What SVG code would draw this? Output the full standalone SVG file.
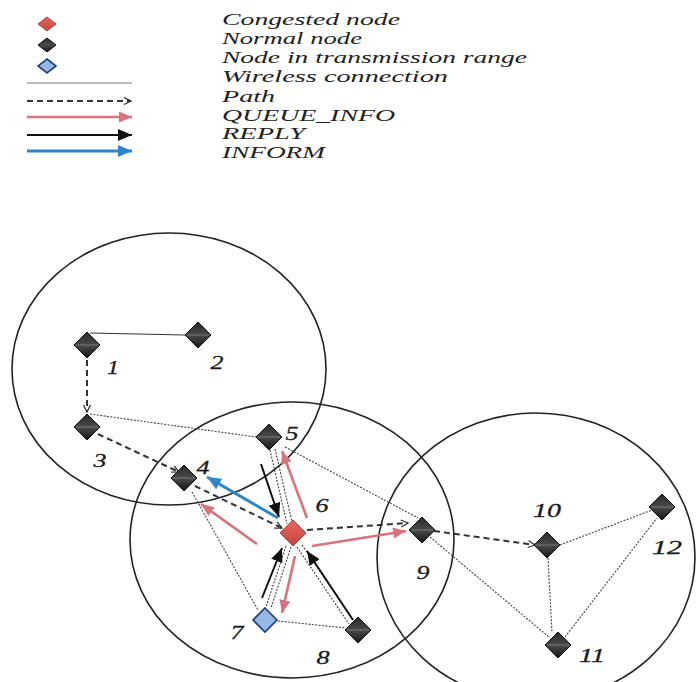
<svg xmlns="http://www.w3.org/2000/svg" width="696" height="682" viewBox="0 0 696 682">
  <style>
    .legend { font-family: "Liberation Serif", "DejaVu Serif", serif; font-style: italic; font-size: 16.5px; fill: #222; }
    .lbl { font-family: "Liberation Serif", "DejaVu Serif", serif; font-style: italic; font-size: 19px; fill: #1a1a1a; text-anchor: middle; stroke: #1a1a1a; stroke-width: 0.3; }
    .range { fill: none; stroke: #222; stroke-width: 1.6; }
    .wireless { fill: none; stroke: #444; stroke-width: 1.1; stroke-dasharray: 2 1.4; }
    .solidlink { fill: none; stroke: #333; stroke-width: 1.1; }
    .path { fill: none; stroke: #333; stroke-width: 2; stroke-dasharray: 6 4; marker-end: url(#openHead); }
    .queue { fill: none; stroke: #d9737b; stroke-width: 2.6; marker-end: url(#redHead); }
    .reply { fill: none; stroke: #111; stroke-width: 2; marker-end: url(#blackHead); }
    .inform { fill: none; stroke: #2e86c8; stroke-width: 3; marker-end: url(#blueHead); }
    .normal { fill: url(#gBlack); stroke: #111; stroke-width: 1; }
    .congested { fill: url(#gRed); stroke: #b0403a; stroke-width: 1; }
    .inrange { fill: #96b8e6; stroke: #1f3f7a; stroke-width: 1.6; }
    .mid { stroke: #777; stroke-width: 1; }
  </style>
  <defs>
    <linearGradient id="gBlack" x1="0" y1="0" x2="0" y2="1">
      <stop offset="0" stop-color="#2a2a2a"/>
      <stop offset="0.5" stop-color="#4a4a4a"/>
      <stop offset="1" stop-color="#151515"/>
    </linearGradient>
    <linearGradient id="gRed" x1="0" y1="0" x2="0" y2="1">
      <stop offset="0" stop-color="#e8675d"/>
      <stop offset="1" stop-color="#c4463d"/>
    </linearGradient>
    <marker id="redHead" markerUnits="userSpaceOnUse" markerWidth="13" markerHeight="11" refX="13" refY="5.5" orient="auto">
      <path d="M0,0 L13,5.5 L0,11 z" fill="#d9737b"/>
    </marker>
    <marker id="blackHead" markerUnits="userSpaceOnUse" markerWidth="14" markerHeight="12" refX="14" refY="6" orient="auto">
      <path d="M0,0 L14,6 L0,12 z" fill="#111"/>
    </marker>
    <marker id="blueHead" markerUnits="userSpaceOnUse" markerWidth="14" markerHeight="12" refX="14" refY="6" orient="auto">
      <path d="M0,0 L14,6 L0,12 z" fill="#2e86c8"/>
    </marker>
    <marker id="openHead" markerUnits="userSpaceOnUse" markerWidth="9" markerHeight="9" refX="8" refY="4.5" orient="auto">
      <path d="M1,1 L8,4.5 L1,8" fill="none" stroke="#333" stroke-width="1.3"/>
    </marker>
  </defs>

  <rect width="696" height="682" fill="#ffffff"/>

  <!-- legend -->
  <g id="legend">
    <polygon points="47,17 56,24 47,31 38,24" class="congested"/>
    <polygon points="47,38 56,45 47,52 38,45" class="normal"/>
    <polygon points="47,59 56,66 47,73 38,66" class="inrange" stroke-width="1"/>
    <line x1="27" y1="83" x2="132" y2="83" stroke="#bbb" stroke-width="2"/>
    <line x1="27" y1="101" x2="131" y2="101" class="path" stroke="#555"/>
    <line x1="27" y1="117" x2="132" y2="117" class="queue" stroke-width="2"/>
    <line x1="27" y1="135" x2="132" y2="135" class="reply" stroke-width="1.6"/>
    <line x1="27" y1="151" x2="132" y2="151" class="inform" stroke-width="2"/>
    <text class="legend" x="222" y="25" textLength="178" lengthAdjust="spacingAndGlyphs">Congested node</text>
    <text class="legend" x="222" y="44" textLength="140" lengthAdjust="spacingAndGlyphs">Normal node</text>
    <text class="legend" x="222" y="63" textLength="305" lengthAdjust="spacingAndGlyphs">Node in transmission range</text>
    <text class="legend" x="222" y="82" textLength="226" lengthAdjust="spacingAndGlyphs">Wireless connection</text>
    <text class="legend" x="222" y="102" textLength="53" lengthAdjust="spacingAndGlyphs">Path</text>
    <text class="legend" x="222" y="121" textLength="173" lengthAdjust="spacingAndGlyphs">QUEUE_INFO</text>
    <text class="legend" x="222" y="139" textLength="83" lengthAdjust="spacingAndGlyphs">REPLY</text>
    <text class="legend" x="222" y="158" textLength="103" lengthAdjust="spacingAndGlyphs">INFORM</text>
  </g>

  <!-- transmission ranges -->
  <g id="ranges">
    <ellipse class="range" cx="169" cy="369" rx="157" ry="136"/>
    <ellipse class="range" cx="292" cy="540" rx="162" ry="138"/>
    <ellipse class="range" cx="536" cy="557" rx="159" ry="144"/>
  </g>

  <!-- connectors -->
  <g id="connectors">
    <!-- wireless links -->
    <line class="solidlink" x1="90" y1="333" x2="185" y2="335"/>
    <line class="wireless" x1="90" y1="414" x2="256" y2="437"/>
    <line class="wireless" x1="285" y1="447" x2="418" y2="518"/>
    <line class="wireless" x1="430" y1="537" x2="550" y2="638"/>
    <line class="wireless" x1="548" y1="558" x2="552" y2="633"/>
    <line class="wireless" x1="560" y1="545" x2="652" y2="510"/>
    <line class="wireless" x1="565" y1="637" x2="657" y2="518"/>
    <line class="wireless" x1="192" y1="492" x2="258" y2="610"/>
    <line class="wireless" x1="270" y1="450" x2="287" y2="524"/>
    <line class="wireless" x1="275" y1="449" x2="292" y2="522"/>
    <line class="wireless" x1="286" y1="546" x2="266" y2="607"/>
    <line class="wireless" x1="291" y1="547" x2="271" y2="608"/>
    <line class="wireless" x1="297" y1="547" x2="349" y2="624"/>
    <line class="wireless" x1="302" y1="545" x2="354" y2="621"/>
    <line class="wireless" x1="278" y1="621" x2="346" y2="628"/>

    <!-- path -->
    <line class="path" x1="87" y1="360" x2="87" y2="412" stroke="#666" stroke-width="2.6"/>
    <line class="path" x1="98" y1="434" x2="179" y2="472"/>
    <line class="path" x1="195" y1="486" x2="282" y2="528"/>
    <line class="path" x1="307" y1="530" x2="408" y2="523"/>
    <line class="path" x1="434" y1="531" x2="535" y2="545"/>

    <!-- QUEUE_INFO -->
    <line class="queue" x1="307" y1="518" x2="282" y2="451"/>
    <line class="queue" x1="257" y1="544" x2="201" y2="504"/>
    <line class="queue" x1="312" y1="546" x2="406" y2="531"/>
    <line class="queue" x1="295" y1="556" x2="282" y2="613"/>

    <!-- REPLY -->
    <line class="reply" x1="261" y1="464" x2="279" y2="517"/>
    <line class="reply" x1="262" y1="598" x2="282" y2="548"/>
    <line class="reply" x1="353" y1="620" x2="307" y2="551"/>

    <!-- INFORM -->
    <line class="inform" x1="278" y1="518" x2="207" y2="477"/>
  </g>

  <!-- nodes -->
  <g id="node1"><polygon class="normal" points="87,332 100,345 87,358 74,345"/><line class="mid" x1="76" y1="345" x2="98" y2="345"/><text class="lbl" x="113" y="374" textLength="12" lengthAdjust="spacingAndGlyphs">1</text></g>
  <g id="node2"><polygon class="normal" points="198,322 211,335 198,348 185,335"/><line class="mid" x1="187" y1="335" x2="209" y2="335"/><text class="lbl" x="217" y="369" textLength="13" lengthAdjust="spacingAndGlyphs">2</text></g>
  <g id="node3"><polygon class="normal" points="87,414 100,427 87,440 74,427"/><line class="mid" x1="76" y1="427" x2="98" y2="427"/><text class="lbl" x="100" y="467" textLength="13" lengthAdjust="spacingAndGlyphs">3</text></g>
  <g id="node4"><polygon class="normal" points="184,465 197,478 184,491 171,478"/><line class="mid" x1="173" y1="478" x2="195" y2="478"/><text class="lbl" x="203" y="474" textLength="13" lengthAdjust="spacingAndGlyphs">4</text></g>
  <g id="node5"><polygon class="normal" points="269,424 282,437 269,450 256,437"/><line class="mid" x1="258" y1="437" x2="280" y2="437"/><text class="lbl" x="292" y="440" textLength="13" lengthAdjust="spacingAndGlyphs">5</text></g>
  <g id="node6"><polygon class="congested" points="293,520 306,533 293,546 280,533"/><text class="lbl" x="322" y="512" textLength="13" lengthAdjust="spacingAndGlyphs">6</text></g>
  <g id="node7"><polygon class="inrange" points="265,608 277,620 265,632 253,620"/><text class="lbl" x="237" y="639" textLength="13" lengthAdjust="spacingAndGlyphs">7</text></g>
  <g id="node8"><polygon class="normal" points="358,617 371,630 358,643 345,630"/><line class="mid" x1="347" y1="630" x2="369" y2="630"/><text class="lbl" x="323" y="664" textLength="13" lengthAdjust="spacingAndGlyphs">8</text></g>
  <g id="node9"><polygon class="normal" points="422,517 435,530 422,543 409,530"/><line class="mid" x1="411" y1="530" x2="433" y2="530"/><text class="lbl" x="423" y="579" textLength="13" lengthAdjust="spacingAndGlyphs">9</text></g>
  <g id="node10"><polygon class="normal" points="547,532 560,545 547,558 534,545"/><line class="mid" x1="536" y1="545" x2="558" y2="545"/><text class="lbl" x="547" y="517" textLength="28" lengthAdjust="spacingAndGlyphs">10</text></g>
  <g id="node11"><polygon class="normal" points="558,632 571,645 558,658 545,645"/><line class="mid" x1="547" y1="645" x2="569" y2="645"/><text class="lbl" x="592" y="662" textLength="26" lengthAdjust="spacingAndGlyphs">11</text></g>
  <g id="node12"><polygon class="normal" points="662,494 675,507 662,520 649,507"/><line class="mid" x1="651" y1="507" x2="673" y2="507"/><text class="lbl" x="667" y="554" textLength="30" lengthAdjust="spacingAndGlyphs">12</text></g>
</svg>
